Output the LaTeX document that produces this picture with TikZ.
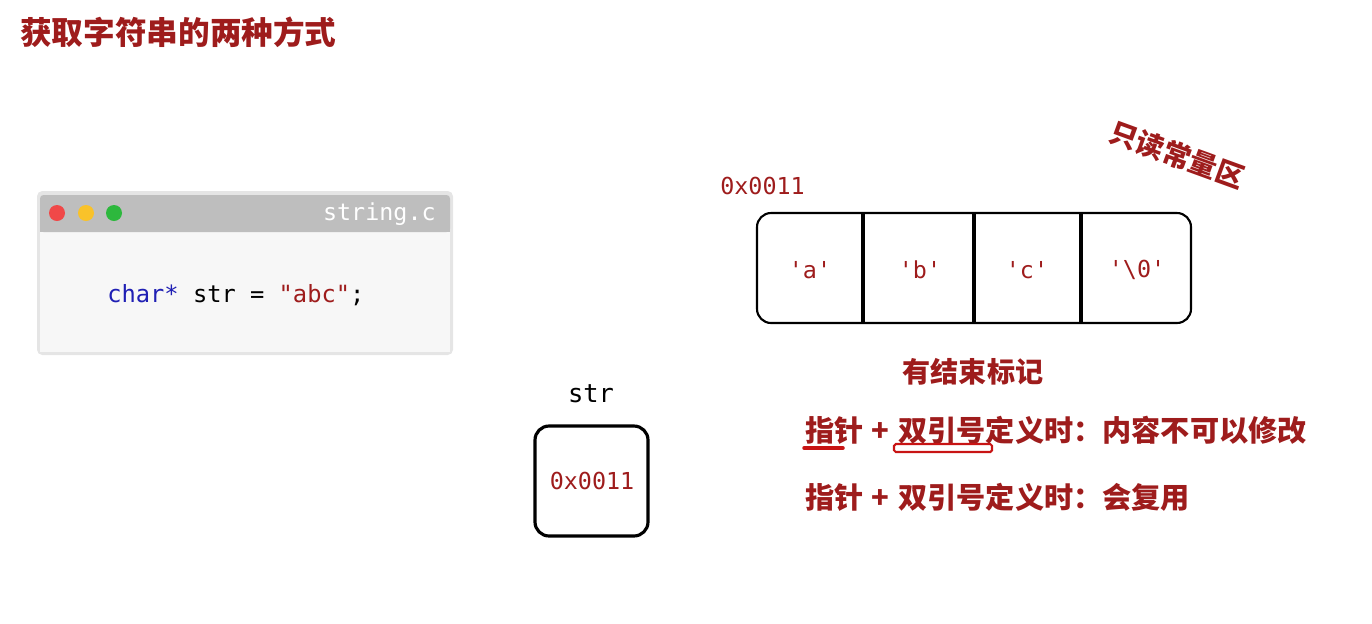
\documentclass[tikz,border=0pt]{standalone}
\usepackage{fontspec}
\usepackage{tikz}
\usepackage{xcolor}
\setmonofont{DejaVu Sans Mono}
\newfontfamily\cjk{Noto Sans CJK SC}
\newcommand{\plusgap}{\hspace{0.16cm}+\hspace{0.18cm}}
\definecolor{darkred}{HTML}{9E1C1C}
\definecolor{markred}{HTML}{C81414}
\definecolor{codeblue}{HTML}{1F1FB4}
\definecolor{bargray}{HTML}{BEBEBE}
\definecolor{winbg}{HTML}{F7F7F7}
\definecolor{dotred}{HTML}{F04848}
\definecolor{dotyellow}{HTML}{F9C22A}
\definecolor{dotgreen}{HTML}{2DB83D}

\begin{document}
\begin{tikzpicture}[
  x=0.02cm, y=-0.02cm,
  heading/.style={font=\cjk\bfseries\fontsize{18}{20}\selectfont, text=darkred, inner sep=0pt},
  note/.style={font=\cjk\bfseries\fontsize{16}{18}\selectfont, text=darkred, inner sep=0pt},
  rule/.style={note, font=\cjk\bfseries\fontsize{16.6}{18}\selectfont},
  addr/.style={font=\ttfamily\fontsize{13.3}{15}\selectfont, text=darkred, inner sep=0pt},
  cell/.style={font=\ttfamily\fontsize{13.3}{15}\selectfont, text=darkred},
]
\useasboundingbox (0,0) rectangle (1372,623);

\node[heading, anchor=west] (title) at (20,32) {获取字符串的两种方式};

% code window
\fill[black!10, rounded corners=3pt] (37,191) rectangle (453,355);
\fill[winbg] (40,232) rectangle (450,352);
\fill[bargray, rounded corners=2pt] (40,195) rectangle (450,232);
\fill[bargray] (40,220) rectangle (450,232);
\fill[dotred] (57,213) circle (8);
\fill[dotyellow] (86,213) circle (8);
\fill[dotgreen] (114,213) circle (8);
\node[font=\ttfamily\fontsize{13.3}{15}\selectfont, text=white, anchor=east, inner sep=0pt] (fname) at (436,214) {string.c};
\node[font=\ttfamily\fontsize{13.5}{15}\selectfont, anchor=west, inner sep=0pt] (code) at (107,295)
  {\textcolor{codeblue}{char*} str = \textcolor{darkred}{"abc"};};

% read-only area
\node[note, rotate=-20] (rodata) at (1177,155) {只读常量区};
\node[addr, anchor=west] (arraddr) at (720,186) {0x0011};
\draw[line width=1.2pt, rounded corners=8pt] (757,213) rectangle (1191,323);
\foreach \x in {863,974,1081}
  \draw[line width=2pt] (\x,213) -- (\x,323);
\node[cell] (ca) at (810,270) {'a'};
\node[cell] (cb) at (920,270) {'b'};
\node[cell] (cc) at (1027,270) {'c'};
\node[cell] (cz) at (1137,270) {'\textbackslash0'};

% pointer variable
\node[font=\ttfamily\fontsize{14.5}{16}\selectfont, inner sep=0pt] (strname) at (591,394) {str};
\draw[line width=1.8pt, rounded corners=8pt] (535,426) rectangle (648,536);
\node[addr] (ptrval) at (592,481) {0x0011};

% notes
\node[note] (endmark) at (973,372) {有结束标记};
\node[rule, anchor=west] (rule1) at (805,430) {指针\plusgap 双引号定义时：内容不可以修改};
\node[rule, anchor=west] (rule2) at (805,497) {指针\plusgap 双引号定义时：会复用};
\draw[markred, line width=2pt, line cap=round] (804,448) -- (843,448);
\draw[markred, line width=1.2pt, rounded corners=1pt] (894,444) rectangle (992,452);

\end{tikzpicture}
\end{document}
